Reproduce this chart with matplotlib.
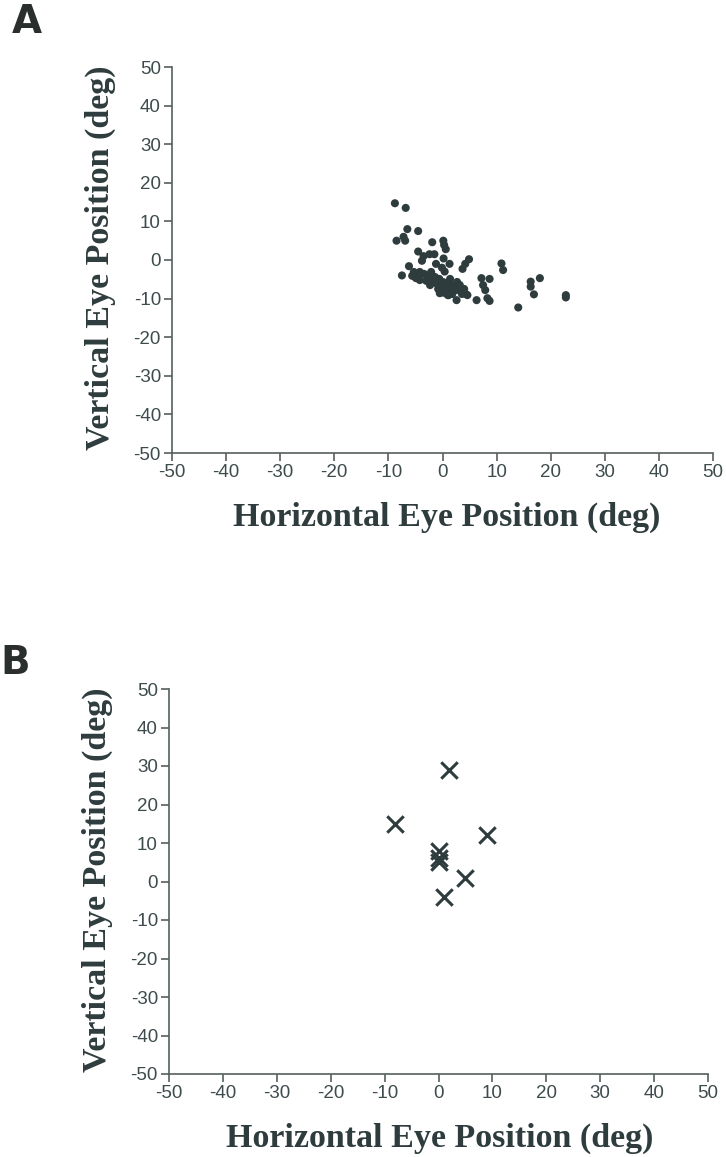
import matplotlib
matplotlib.use("Agg")
import matplotlib.pyplot as plt

plt.rcParams["axes.unicode_minus"] = False

# Panel A: fixation positions (deg)
a_x = [-8.8, -6.8, -6.5, -4.5, -8.5, -7.2, -6.9, -1.9, 0.15, 0.3, 0.6, -4.5,
       -3.5, -2.4, -1.5, 0.2, -3.8, 1.3, -1.2, -6.2, 4.9, 4.2, 3.7, -7.5,
       10.9, 11.2, 7.2, 8.7, 7.5, 7.9, 8.3, 8.7, 6.3, -0.5, 1.1, 2.6, 4.6,
       14.0, 16.3, 16.3, 18.0, 16.9, 22.8, 22.8,
       -5.3, -4.9, -4.2, -4.2, -3.4, -3.0, -2.7, -2.1, -1.9, -1.4, -1.2, -0.6,
       -0.5, 0.1, 0.5, 0.8, 1.2, 1.8, 2.1, 2.5, 3.0, 3.6, 4.0, 4.3, 0.0, -0.8,
       -2.3, -4.5, -5.6, 1.4, 2.7, 3.2, 0.3, 1.8, 1.0, -0.1, 0.4]
a_y = [14.7, 13.5, 8.0, 7.5, 5.0, 6.0, 5.0, 4.6, 5.0, 3.9, 2.8, 2.2,
       1.0, 1.5, 1.5, 0.4, -0.2, -1.0, -1.0, -1.6, 0.2, -1.0, -2.3, -4.0,
       -0.9, -2.6, -4.7, -4.9, -6.5, -7.8, -9.9, -10.6, -10.4, -8.6, -9.1, -10.4, -9.1,
       -12.3, -5.6, -6.9, -4.7, -8.9, -9.1, -9.7,
       -3.1, -4.7, -3.1, -5.2, -3.6, -5.4, -4.1, -3.1, -5.2, -4.4, -6.0, -4.9,
       -6.5, -5.7, -7.0, -6.0, -7.5, -6.5, -8.0, -7.0, -7.8, -8.8, -7.5, -8.8, -8.0, -7.5,
       -6.5, -3.9, -4.1, -4.9, -5.7, -6.5, -8.5, -8.8, -9.1, -2.0, -3.0]

# Panel B: fixation positions (deg)
b_x = [-8.0, 2.0, 9.0, 0.0, 0.0, 0.0, 5.0, 1.0]
b_y = [15.0, 29.0, 12.0, 8.0, 6.0, 5.0, 1.0, -4.0]

ticks = [-50, -40, -30, -20, -10, 0, 10, 20, 30, 40, 50]

INK = "#2f3c3d"
TICK = "#3e4b4c"
SPINE = "#56605f"

fig = plt.figure(figsize=(7.26, 11.57), dpi=100)


def style_axes(ax):
    ax.set_xlim(-50, 50)
    ax.set_ylim(-50, 50)
    ax.set_xticks(ticks)
    ax.set_yticks(ticks)
    for side in ["top", "right"]:
        ax.spines[side].set_visible(False)
    for side in ["left", "bottom"]:
        ax.spines[side].set_color(SPINE)
        ax.spines[side].set_linewidth(1.2)
    ax.tick_params(direction="out", length=6, width=1.2, color=SPINE,
                   labelcolor=TICK, labelsize=13.5, pad=2)
    for lab in ax.get_xticklabels() + ax.get_yticklabels():
        lab.set_family("Liberation Sans")


axA = fig.add_axes([172 / 726, 1 - 453 / 1157, 541 / 726, 386 / 1157])
axA.scatter(a_x, a_y, s=34, color=INK, edgecolors="none", clip_on=False)
style_axes(axA)

axB = fig.add_axes([169 / 726, 1 - 1074 / 1157, 539 / 726, 385 / 1157])
axB.scatter(b_x, b_y, s=140, marker="x", color=INK, linewidths=2.2, clip_on=False)
style_axes(axB)

lab_kw = dict(family="Liberation Serif", fontweight="bold", fontsize=24.5,
              color=INK, ha="center", va="center")
fig.text(100 / 726, 1 - 258 / 1157, "Vertical Eye Position (deg)", rotation=90, **lab_kw)
fig.text(447 / 726, 1 - 517 / 1157, "Horizontal Eye Position (deg)", **lab_kw)
fig.text(97 / 726, 1 - 880 / 1157, "Vertical Eye Position (deg)", rotation=90, **lab_kw)
fig.text(440 / 726, 1 - 1138 / 1157, "Horizontal Eye Position (deg)", **lab_kw)

let_kw = dict(family="DejaVu Sans", fontweight="heavy", fontsize=28,
              color="#2a2f2e", ha="center", va="center")
fig.text(27 / 726, 1 - 22 / 1157, "A", **let_kw)
fig.text(15 / 726, 1 - 663 / 1157, "B", **let_kw)

fig.savefig("out.png", dpi=100)
